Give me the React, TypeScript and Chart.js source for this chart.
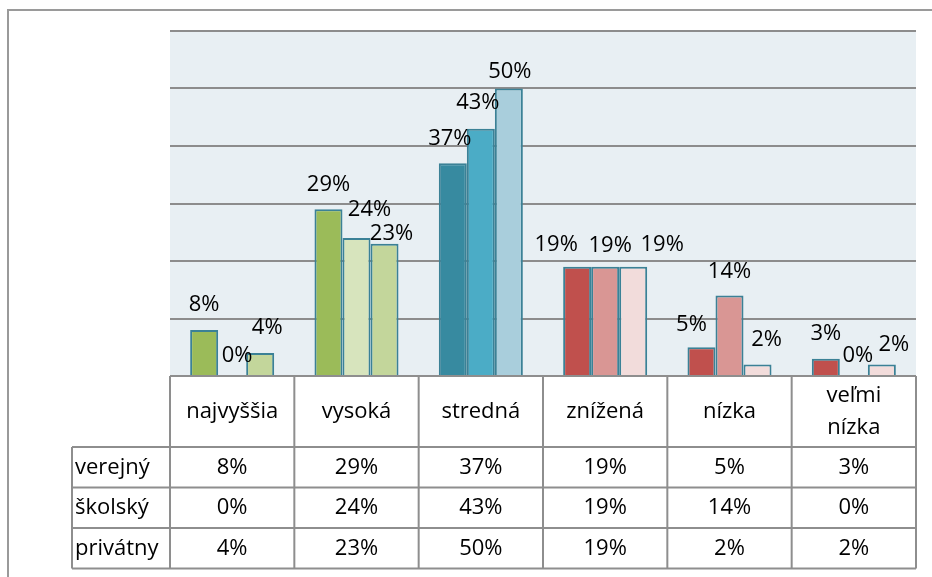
import { useEffect, useRef } from 'react';
import { Chart, registerables } from 'chart.js';

Chart.register(...registerables);

// ---- data ----
const categories = ['najvyššia', 'vysoká', 'stredná', 'znížená', 'nízka', 'veľmi nízka'];
const seriesNames = ['verejný', 'školský', 'privátny'];
const verejny = [8, 29, 37, 19, 5, 3];
const skolsky = [0, 24, 43, 19, 14, 0];
const privatny = [4, 23, 50, 19, 2, 2];
const yTicks = [0, 10, 20, 30, 40, 50, 60];

// ---- styles ----
const verejnyColors = ['#9BBB59', '#9BBB59', '#378AA0', '#C0504D', '#C0504D', '#C0504D'];
const skolskyColors = ['#D7E4BD', '#D7E4BD', '#4BACC6', '#D99694', '#D99694', '#D99694'];
const privatnyColors = ['#C3D69B', '#C3D69B', '#A9CEDC', '#F2DCDB', '#F2DCDB', '#F2DCDB'];
const BAR_BORDER = '#3B8196';
const PLOT_BG = '#E8EFF3';
const GRID = '#8C8C8C';
const TABLE_LINE = '#8E8E8E';
const FRAME = '#9A9A9A';
const FONT = '"Open Sans", "Noto Sans", sans-serif';
const FONT_SIZE = 22;
const LABEL_GAP = 25;
// label nudges [dx, dy] per series, per category (manual label placement)
const nudgeVerejny = [[0, 0], [0, 0], [-3, 0], [-21, 3], [-10, 2], [0, 0]];
const nudgeSkolsky = [[5, 5], [13, -3], [-3, -1], [5, 4], [0, 1], [4, 5]];
const nudgePrivatny = [[7, 0], [7, 15], [1, 8], [29, 3], [9, 0], [12, 5]];
const HEADER_H = 71;
const ROW_H = 40.5;
const ROW_LABEL_LEFT = 72;

const seriesValues = [verejny, skolsky, privatny];
const seriesColors = [verejnyColors, skolskyColors, privatnyColors];
const seriesNudges = [nudgeVerejny, nudgeSkolsky, nudgePrivatny];

const bgPlugin = {
  id: 'bgPlugin',
  beforeDraw(chart: any) {
    const { ctx, chartArea: a, width, height } = chart;
    ctx.save();
    ctx.fillStyle = '#FFFFFF';
    ctx.fillRect(0, 0, width, height);
    ctx.fillStyle = PLOT_BG;
    ctx.fillRect(a.left, a.top, a.right - a.left, a.bottom - a.top);
    // outer frame (left and top edges visible)
    ctx.strokeStyle = FRAME;
    ctx.lineWidth = 2;
    ctx.beginPath();
    ctx.moveTo(8, height);
    ctx.lineTo(8, 10);
    ctx.lineTo(width, 10);
    ctx.stroke();
    ctx.restore();
  },
};

const labelPlugin = {
  id: 'labelPlugin',
  afterDatasetsDraw(chart: any) {
    const { ctx } = chart;
    ctx.save();
    ctx.font = `${FONT_SIZE}px ${FONT}`;
    ctx.fillStyle = '#000000';
    ctx.textAlign = 'center';
    ctx.textBaseline = 'middle';
    chart.data.datasets.forEach((ds: any, di: number) => {
      const meta = chart.getDatasetMeta(di);
      meta.data.forEach((bar: any, i: number) => {
        const [dx, dy] = seriesNudges[di][i];
        ctx.fillText(`${ds.data[i]}%`, bar.x + dx, bar.y - LABEL_GAP + dy);
      });
    });
    ctx.restore();
  },
};

const tablePlugin = {
  id: 'tablePlugin',
  afterDraw(chart: any) {
    const { ctx, chartArea: a } = chart;
    const n = categories.length;
    const colW = (a.right - a.left) / n;
    const top = a.bottom;
    const headBottom = top + HEADER_H;
    const bottom = headBottom + ROW_H * seriesNames.length;
    ctx.save();
    ctx.strokeStyle = TABLE_LINE;
    ctx.lineWidth = 2;
    ctx.beginPath();
    ctx.moveTo(a.left, top);
    ctx.lineTo(a.right, top);
    for (let r = 0; r <= seriesNames.length; r++) {
      const y = headBottom + r * ROW_H;
      ctx.moveTo(ROW_LABEL_LEFT, y);
      ctx.lineTo(a.right, y);
    }
    ctx.moveTo(ROW_LABEL_LEFT, headBottom);
    ctx.lineTo(ROW_LABEL_LEFT, bottom);
    for (let c = 0; c <= n; c++) {
      const x = a.left + c * colW;
      ctx.moveTo(x, top);
      ctx.lineTo(x, bottom);
    }
    ctx.stroke();

    ctx.font = `${FONT_SIZE}px ${FONT}`;
    ctx.fillStyle = '#000000';
    ctx.textBaseline = 'middle';
    ctx.textAlign = 'center';
    const lineH = 32;
    categories.forEach((cat, c) => {
      const cx = a.left + (c + 0.5) * colW;
      let lines = [cat];
      if (ctx.measureText(cat).width > colW * 0.8) lines = cat.split(' ');
      const cy = top + HEADER_H / 2;
      lines.forEach((ln, li) => {
        ctx.fillText(ln, cx, cy + (li - (lines.length - 1) / 2) * lineH);
      });
    });
    seriesNames.forEach((name, r) => {
      const cy = headBottom + (r + 0.5) * ROW_H;
      ctx.textAlign = 'left';
      ctx.fillText(name, ROW_LABEL_LEFT + 3, cy);
      ctx.textAlign = 'center';
      seriesValues[r].forEach((v, c) => {
        ctx.fillText(`${v}%`, a.left + (c + 0.5) * colW, cy);
      });
    });
    ctx.restore();
  },
};

export default function App() {
  const ref = useRef<HTMLCanvasElement>(null);
  useEffect(() => {
    if (!ref.current) return;
    const chart = new Chart(ref.current, {
      type: 'bar',
      data: {
        labels: categories,
        datasets: seriesNames.map((name, i) => ({
          label: name,
          data: seriesValues[i],
          backgroundColor: seriesColors[i],
          borderColor: BAR_BORDER,
          borderWidth: 2,
          categoryPercentage: 0.676,
          barPercentage: 1,
        })),
      },
      options: {
        responsive: false,
        animation: false,
        layout: { padding: { left: 170, top: 31, right: 16, bottom: 201 } },
        plugins: { legend: { display: false }, tooltip: { enabled: false } },
        scales: {
          x: { display: false },
          y: {
            display: true,
            min: yTicks[0],
            max: yTicks[yTicks.length - 1],
            afterBuildTicks: (scale: any) => {
              scale.ticks = yTicks.map((v) => ({ value: v }));
            },
            ticks: { display: false },
            grid: { color: GRID, lineWidth: 2, drawTicks: false },
            border: { display: false },
          },
        },
      },
      plugins: [bgPlugin, labelPlugin, tablePlugin],
    });
    return () => chart.destroy();
  }, []);
  return (
    <div style={{ position: 'fixed', left: 0, top: 0, width: 932, height: 577, background: '#fff' }}>
      <canvas ref={ref} width={932} height={577} style={{ display: 'block' }} />
    </div>
  );
}
